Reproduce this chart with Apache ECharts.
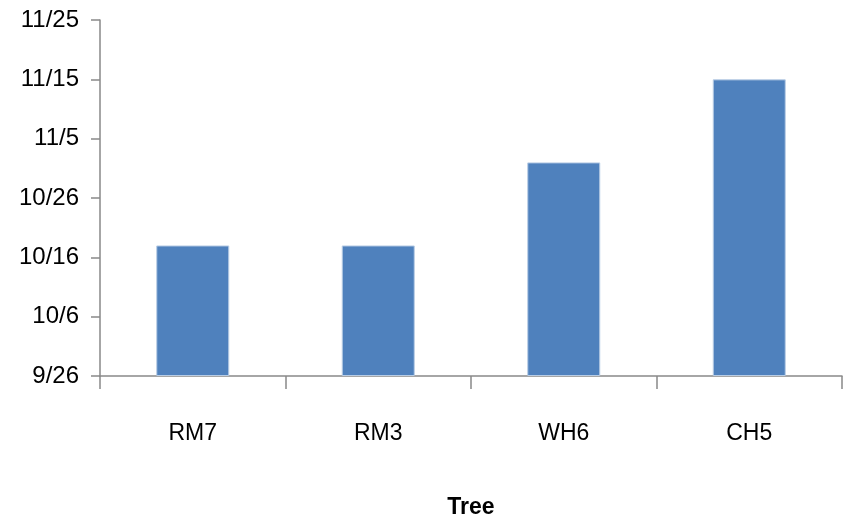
<!DOCTYPE html>
<html>
<head>
<meta charset="utf-8">
<title>Tree</title>
<script src="https://cdn.jsdelivr.net/npm/echarts@6/dist/echarts.min.js"></script>
<style>
  html, body { margin: 0; padding: 0; background: #ffffff; }
  #chart { width: 854px; height: 526px; }
</style>
</head>
<body>
<div id="chart"></div>
<script>
// Trees and the date recorded for each one
const trees = ['RM7', 'RM3', 'WH6', 'CH5'];
const treeDates = ['2012-10-18', '2012-10-18', '2012-11-01', '2012-11-15'];

// Date axis: start date, span in days and tick step in days
const axisStart = '2012-09-26';
const axisSpanDays = 60;
const axisStepDays = 10;

const DAY = 24 * 3600 * 1000;
const startMs = Date.parse(axisStart + 'T00:00:00Z');
const toDays = s => Math.round((Date.parse(s + 'T00:00:00Z') - startMs) / DAY);
const dayLabel = d => {
  const dt = new Date(startMs + d * DAY);
  return (dt.getUTCMonth() + 1) + '/' + dt.getUTCDate();
};

const axisColor = '#898989';
const font = '"Liberation Sans", Arial, sans-serif';

const chart = echarts.init(document.getElementById('chart'), null, { renderer: 'canvas' });
chart.setOption({
  animation: false,
  backgroundColor: '#ffffff',
  grid: { left: 100, right: 12, top: 20, bottom: 150, containLabel: false, outerBoundsMode: 'none' },
  xAxis: {
    type: 'category',
    data: trees,
    boundaryGap: true,
    name: 'Tree',
    nameLocation: 'middle',
    nameGap: 120,
    nameTextStyle: { fontFamily: font, fontSize: 23, fontWeight: 'bold', color: '#000000' },
    axisLine: { lineStyle: { color: axisColor, width: 1.5 } },
    axisTick: { show: true, length: 13, alignWithLabel: false, lineStyle: { color: axisColor, width: 1.5 } },
    axisLabel: { margin: 46, fontFamily: font, fontSize: 23, color: '#000000' },
    splitLine: { show: false }
  },
  yAxis: {
    type: 'value',
    min: 0,
    max: axisSpanDays,
    interval: axisStepDays,
    axisLine: { show: true, lineStyle: { color: axisColor, width: 1.5 } },
    axisTick: { show: true, length: 9, lineStyle: { color: axisColor, width: 1.5 } },
    axisLabel: {
      margin: 21,
      fontFamily: font,
      fontSize: 24,
      color: '#000000',
      formatter: v => dayLabel(v)
    },
    splitLine: { show: false }
  },
  series: [{
    type: 'bar',
    data: treeDates.map(toDays),
    barWidth: 73,
    itemStyle: { color: '#4f81bd', borderColor: '#b9cde5', borderWidth: 1 }
  }]
});
</script>
</body>
</html>
